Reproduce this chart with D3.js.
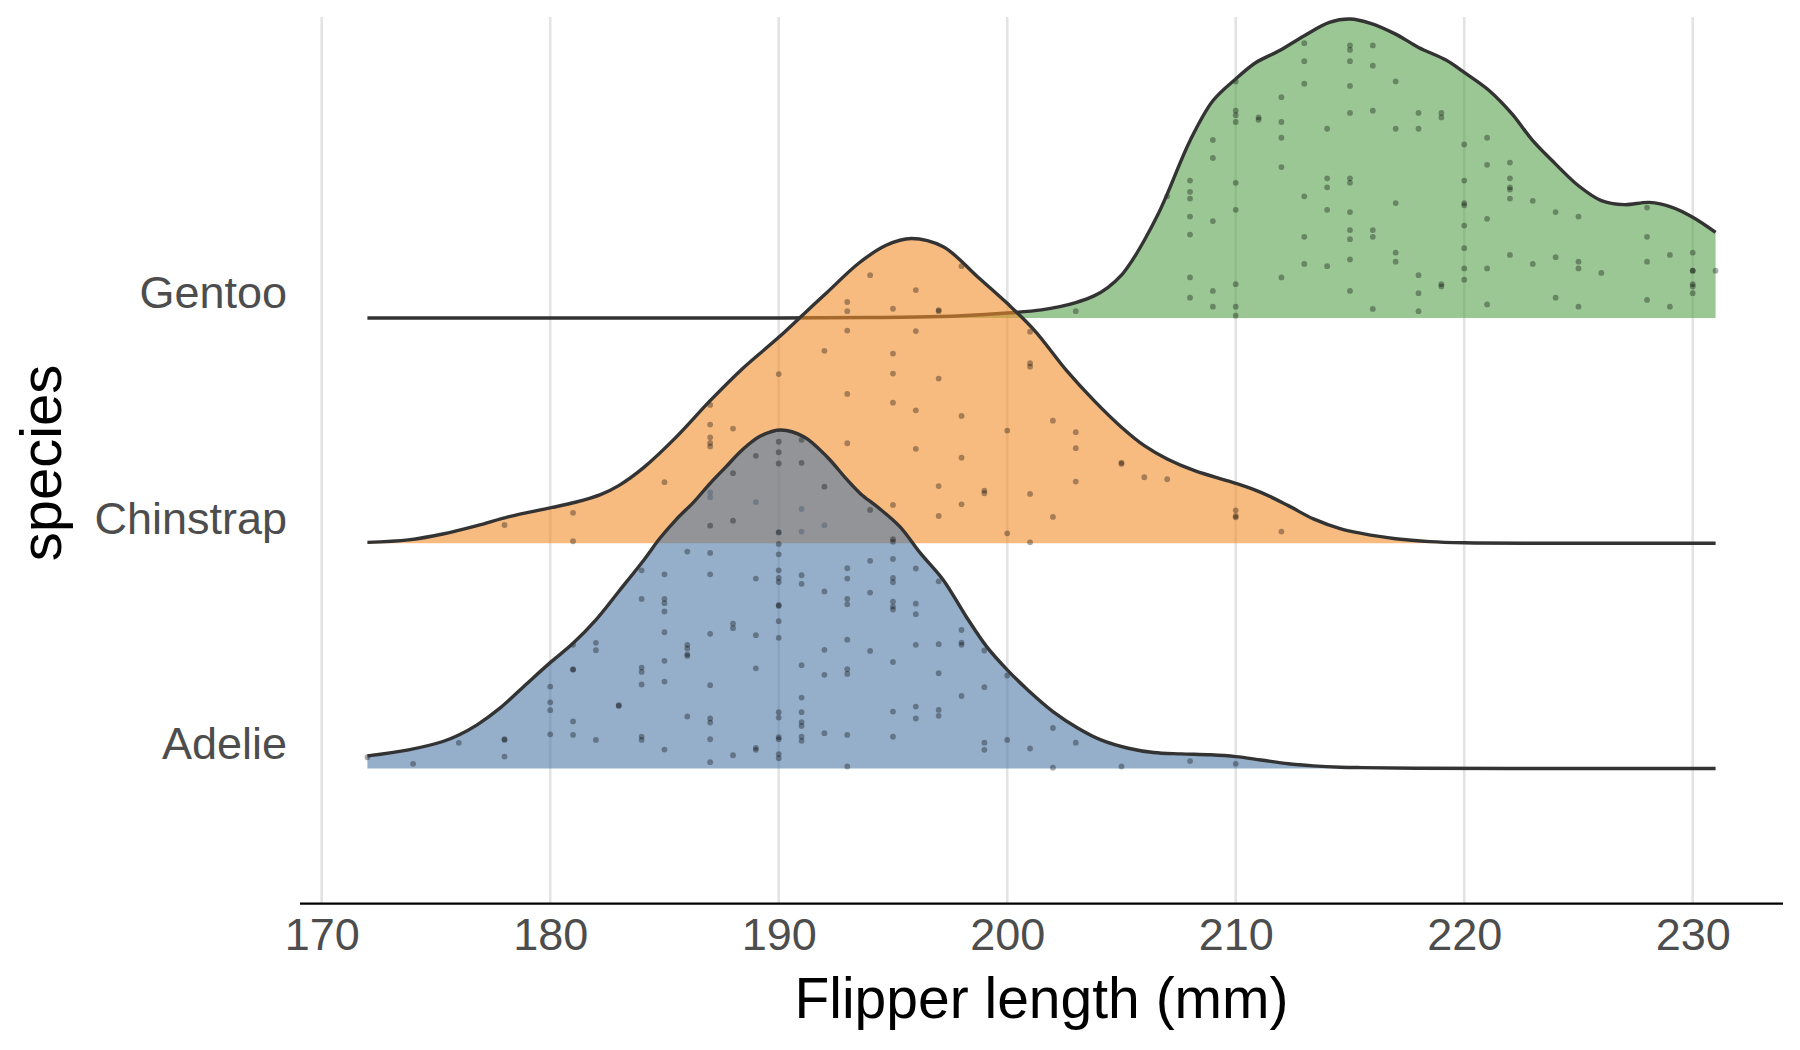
<!DOCTYPE html>
<html>
<head>
<meta charset="utf-8">
<script src="https://cdn.jsdelivr.net/npm/d3@7"></script>
<style>
  body { margin: 0; background: #fff; }
  text { font-family: "Liberation Sans", Arial, Helvetica, sans-serif; }
</style>
</head>
<body>
<div id="chart"></div>
<script>
(function () {
// ---- data ----
var species = ["Adelie", "Chinstrap", "Gentoo"];
var fills = ["#4e79a7", "#f28e2b", "#59a14f"];
var xTicks = [170, 180, 190, 200, 210, 220, 230];

// ridge heights (scaled density, in units of row spacing)
var adelieX = [172, 173.8, 175.3, 176, 176.8, 177.8, 179, 180, 181, 182, 183, 184.1, 184.8, 185.5, 186.3, 187, 187.7, 188.4, 189.2, 190.1, 191.1, 192.1, 193, 193.6, 194.3, 195.3, 196.2, 197.2, 198.2, 199.1, 200, 200.9, 202, 203.1, 204.1, 205.3, 206.4, 207.6, 208.9, 210, 211.1, 212.3, 213.4, 214.6, 215.5, 218, 222, 231];
var adelieH = [0.056, 0.083, 0.120, 0.149, 0.194, 0.268, 0.379, 0.470, 0.556, 0.660, 0.786, 0.926, 1.022, 1.104, 1.185, 1.266, 1.340, 1.414, 1.476, 1.503, 1.473, 1.385, 1.281, 1.218, 1.163, 1.074, 0.956, 0.837, 0.675, 0.541, 0.438, 0.349, 0.253, 0.179, 0.127, 0.090, 0.071, 0.065, 0.061, 0.053, 0.038, 0.021, 0.012, 0.006, 0.004, 0.001, 0, 0];

var chinX = [172, 173.8, 175.3, 176.8, 178.2, 180, 181.1, 182.2, 183, 184.1, 185.5, 187, 188.4, 190, 191.1, 192.1, 193.5, 194.7, 195.8, 197.2, 198.7, 200, 201.2, 202.6, 203.8, 205, 206, 207, 208.2, 210, 211.1, 212.3, 213.4, 214.6, 215.5, 217, 218.5, 220, 224, 231];
var chinH = [0.004, 0.015, 0.041, 0.078, 0.118, 0.157, 0.182, 0.216, 0.256, 0.337, 0.470, 0.633, 0.774, 0.914, 1.018, 1.112, 1.243, 1.323, 1.353, 1.316, 1.183, 1.065, 0.944, 0.766, 0.633, 0.515, 0.433, 0.374, 0.322, 0.266, 0.226, 0.167, 0.108, 0.064, 0.044, 0.020, 0.007, 0.002, 0, 0];

var gentooX = [172, 190, 194, 196, 198, 200, 201.5, 202.3, 203, 203.8, 204.4, 205, 205.5, 206, 206.6, 207, 208, 209, 210, 210.9, 211.9, 213, 214.1, 215, 215.9, 217, 218, 219.2, 220, 221.1, 222.1, 223, 224, 225, 226, 227, 228.1, 229.1, 230, 231];
var gentooH = [0, 0, 0.002, 0.004, 0.010, 0.022, 0.036, 0.050, 0.068, 0.098, 0.135, 0.190, 0.260, 0.345, 0.460, 0.550, 0.787, 0.964, 1.061, 1.135, 1.186, 1.253, 1.312, 1.327, 1.308, 1.260, 1.201, 1.145, 1.090, 1.009, 0.905, 0.787, 0.683, 0.587, 0.521, 0.503, 0.513, 0.491, 0.447, 0.380];

// jittered observations: [flipper length, height above ridge baseline]
var adeliePts = [[172,.05],[174,.021],[176,.114],[178,.13],[178,.127],[178,.053],
  [180,.364],[180,.294],[180,.259],[180,.152],
  [181,.549],[181,.441],[181,.438],[181,.209],[181,.149],
  [182,.558],[182,.525],[182,.127],[183,.281],[183,.278],
  [184,.88],[184,.753],[184,.448],[184,.429],[184,.373],[184,.142],[184,.127],
  [185,.862],[185,.753],[185,.734],[185,.697],[185,.605],[185,.478],[185,.386],[185,.084],
  [186,.963],[186,.549],[186,.533],[186,.507],[186,.5],[186,.231],
  [187,1.078],[187,.957],[187,.862],[187,.598],[187,.37],[187,.222],[187,.204],[187,.13],[187,.028],
  [188,1.311],[188,1.1],[188,.643],[188,.623],[188,.059],
  [189,1.388],[189,.843],[189,.592],[189,.445],[189,.092],[189,.083],
  [190,1.451],[190,1.404],[190,1.354],[190,1.049],[190,.997],[190,.951],[190,.88],[190,.846],[190,.828],[190,.726],[190,.722],[190,.654],[190,.58],[190,.25],[190,.226],[190,.139],[190,.13],[190,.064],[190,.046],
  [191,1.459],[191,1.357],[191,.858],[191,.82],[191,.459],[191,.315],[191,.25],[191,.206],[191,.189],[191,.141],[191,.123],
  [192,1.251],[192,.786],[192,.527],[192,.416],[192,.157],
  [193,.889],[193,.843],[193,.753],[193,.729],[193,.572],[193,.441],[193,.42],[193,.149],[193,.009],
  [194,1.148],[194,.922],[194,.781],[194,.522],
  [195,1.018],[195,1.007],[195,.93],[195,.846],[195,.827],[195,.741],[195,.719],[195,.706],[195,.473],[195,.253],[195,.141],
  [196,.888],[196,.732],[196,.685],[196,.549],[196,.275],[196,.222],
  [197,.831],[197,.552],[197,.423],[197,.26],[197,.234],
  [198,.615],[198,.559],[198,.549],[198,.322],
  [199,.524],[199,.361],[199,.115],[199,.083],
  [200,.413],[200,.127],[201,.089],[202,.18],[202,.004],[203,.115],[205,.009],[208,.033],[210,.021]];

var chinPts = [[178,.081],[181,.135],[181,.009],[185,.271],
  [187,.614],[187,.527],[187,.47],[187,.445],[187,.43],[187,.226],[187,.204],
  [188,.509],[189,.183],[190,.751],[190,.047],[191,.152],[191,.052],[192,.854],[192,.08],
  [193,1.071],[193,1.03],[193,.944],[193,.663],[193,.444],[194,1.19],
  [195,1.041],[195,.842],[195,.753],[195,.624],[195,.17],
  [196,1.124],[196,.942],[196,.59],[196,.419],
  [197,1.035],[197,1.03],[197,.731],[197,.254],[197,.121],
  [198,1.23],[198,.565],[198,.38],[198,.173],[199,.234],[199,.222],[200,.5],[200,.044],
  [201,.939],[201,.799],[201,.784],[201,.219],[201,.004],[202,.544],[202,.117],
  [203,.493],[203,.422],[203,.274],[205,.358],[205,.352],[206,.293],[207,.284],
  [210,.146],[210,.121],[210,.115],[212,.052]];

var gentooPts = [[203,.03],[207,.54],
  [208,.61],[208,.56],[208,.53],[208,.45],[208,.37],[208,.18],[208,.09],
  [209,.79],[209,.71],[209,.43],[209,.12],[209,.05],
  [210,1.05],[210,.92],[210,.9],[210,.87],[210,.6],[210,.48],[210,.15],[210,.05],[210,.01],
  [211,.89],[211,.88],[212,.98],[212,.87],[212,.8],[212,.67],[212,.18],
  [213,1.22],[213,1.14],[213,1.04],[213,.54],[213,.36],[213,.24],
  [214,.84],[214,.62],[214,.58],[214,.48],[214,.23],
  [215,1.21],[215,1.19],[215,1.14],[215,1.03],[215,.91],[215,.62],[215,.6],[215,.47],[215,.39],[215,.35],[215,.26],[215,.12],
  [216,1.21],[216,1.12],[216,.92],[216,.39],[216,.36],[216,.04],
  [217,1.05],[217,.84],[217,.51],[217,.29],[217,.25],
  [218,.91],[218,.84],[218,.19],[218,.11],[218,.03],
  [219,.91],[219,.89],[219,.15],[219,.14],
  [220,.77],[220,.61],[220,.51],[220,.5],[220,.41],[220,.31],[220,.22],[220,.17],
  [221,.8],[221,.68],[221,.44],[221,.22],[221,.06],
  [222,.69],[222,.62],[222,.58],[222,.57],[222,.53],[222,.28],
  [223,.52],[223,.24],[224,.47],[224,.27],[224,.09],
  [225,.45],[225,.25],[225,.22],[225,.05],[226,.2],
  [228,.49],[228,.36],[228,.25],[228,.08],[229,.28],[229,.05],
  [230,.29],[230,.21],[230,.21],[230,.15],[230,.14],[230,.11],[231,.21]];

var ridges = [
  { xs: adelieX, hs: adelieH, pts: adeliePts },
  { xs: chinX, hs: chinH, pts: chinPts },
  { xs: gentooX, hs: gentooH, pts: gentooPts }
];

// ---- layout ----
var W = 1800, H = 1050;
var left = 300, right = 1783, top = 17, bottom = 903.7;

var svg = d3.select("#chart").append("svg").attr("width", W).attr("height", H);

var x = d3.scaleLinear().domain([169.05, 233.95]).range([left, right]);
var y = d3.scaleLinear().domain([0.4, 4.336]).range([bottom, top]);

// vertical grid
svg.append("g").selectAll("line").data(xTicks).enter().append("line")
  .attr("x1", function (d) { return x(d); })
  .attr("x2", function (d) { return x(d); })
  .attr("y1", top).attr("y2", bottom)
  .attr("stroke", "#e3e3e3").attr("stroke-width", 2.6);

var smooth = d3.curveCatmullRom.alpha(0.5);

// ridges, drawn top row first so lower rows sit over them
for (var i = ridges.length - 1; i >= 0; i--) {
  var r = ridges[i], base = i + 1;
  var pts = r.xs.map(function (v, k) { return [v, r.hs[k]]; });
  var g = svg.append("g");

  var area = d3.area().curve(smooth)
    .x(function (d) { return x(d[0]); })
    .y0(y(base))
    .y1(function (d) { return y(base + Math.max(0, d[1])); });
  var line = d3.line().curve(smooth)
    .x(function (d) { return x(d[0]); })
    .y(function (d) { return y(base + d[1]); });

  g.append("path").attr("d", area(pts))
    .attr("fill", fills[i]).attr("fill-opacity", 0.6);

  g.selectAll("circle").data(r.pts).enter().append("circle")
    .attr("cx", function (d) { return x(d[0]); })
    .attr("cy", function (d) { return y(base + d[1]); })
    .attr("r", 2.9)
    .attr("fill", "#000").attr("fill-opacity", 0.33);

  g.append("path").attr("d", line(pts))
    .attr("fill", "none").attr("stroke", "#333")
    .attr("stroke-width", 3.4).attr("stroke-linejoin", "round");
}

// x axis
var xAxis = svg.append("g").attr("transform", "translate(0," + bottom + ")")
  .call(d3.axisBottom(x).tickValues(xTicks).tickSize(0).tickPadding(14.5).tickSizeOuter(0));
xAxis.select(".domain").attr("stroke", "#000").attr("stroke-width", 2.2)
  .attr("d", "M" + left + ",0H" + right);
xAxis.selectAll("text").attr("font-size", 45).attr("fill", "#4d4d4d")
  .style("font-family", "'Liberation Sans', Arial, sans-serif");

// species labels
svg.append("g").selectAll("text").data(species).enter().append("text")
  .attr("x", left - 13)
  .attr("y", function (d, k) { return y(k + 1) - 9.5; })
  .attr("text-anchor", "end")
  .attr("font-size", 45).attr("fill", "#4d4d4d")
  .text(function (d) { return d; });

// axis titles
svg.append("text")
  .attr("x", (left + right) / 2).attr("y", 1018)
  .attr("text-anchor", "middle").attr("font-size", 57).attr("fill", "#000")
  .text("Flipper length (mm)");

svg.append("text")
  .attr("transform", "translate(61," + 463 + ") rotate(-90)")
  .attr("text-anchor", "middle").attr("font-size", 58).attr("fill", "#000")
  .text("species");
})();
</script>
</body>
</html>
